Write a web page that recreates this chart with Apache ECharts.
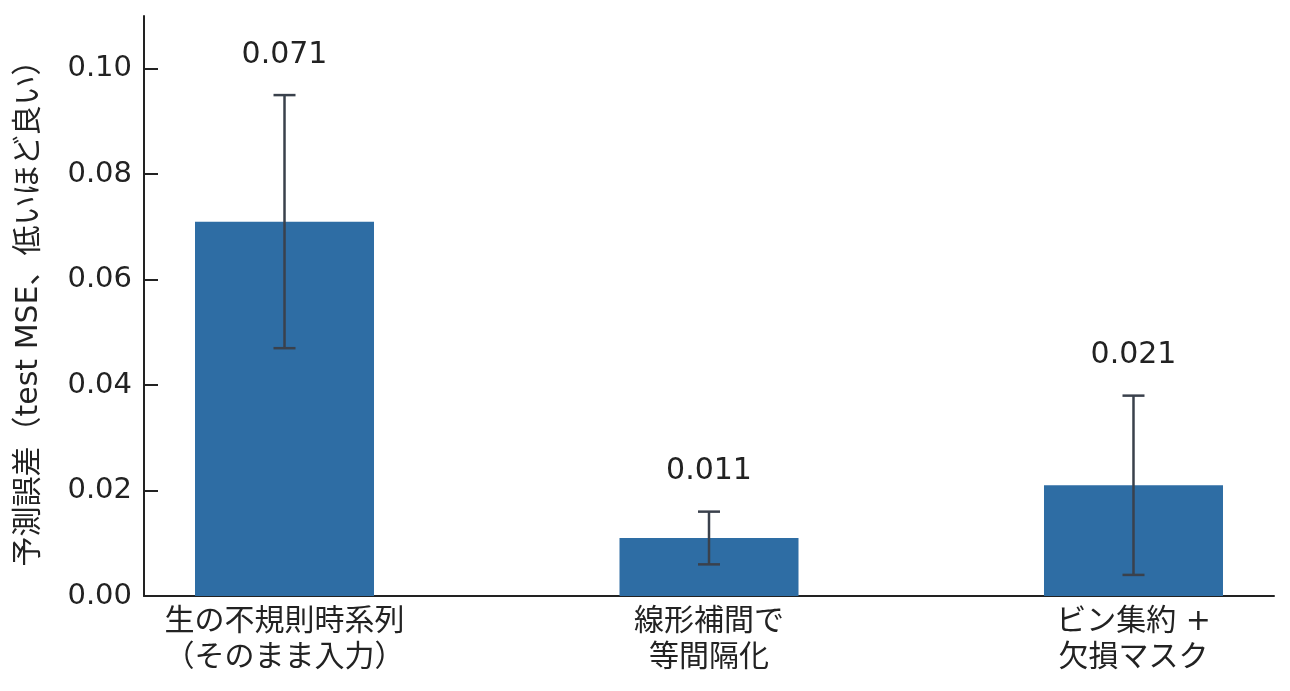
<!DOCTYPE html>
<html><head><meta charset="utf-8">
<script src="https://cdn.jsdelivr.net/npm/echarts@6/dist/echarts.min.js"></script>
<style>html,body{margin:0;padding:0;background:#fff}#c{width:1290px;height:691px}</style>
</head><body><div id="c"></div>
<script>
const categories = ['生の不規則時系列\n（そのまま入力）', '線形補間で\n等間隔化', 'ビン集約 +\n欠損マスク'];
const means = [0.071, 0.011, 0.021];
const errors = [0.024, 0.005, 0.017];
const valueLabels = ['0.071', '0.011', '0.021'];
const yTicks = [0, 0.02, 0.04, 0.06, 0.08, 0.10];

const FONT = '"DejaVu Sans", "Noto Sans CJK JP", sans-serif';
const chart = echarts.init(document.getElementById('c'));
const barData = means.map((v, i) => [i, v]);
const errData = means.map((v, i) => [i, v - errors[i], v + errors[i], i]);

chart.setOption({
  animation: false,
  grid: { left: 144, right: 16, top: 16, bottom: 95, containLabel: false },
  xAxis: {
    type: 'value', min: -0.331, max: 2.331,
    axisLine: { show: true, onZero: false, lineStyle: { color: '#222', width: 2 } },
    axisTick: { show: false },
    splitLine: { show: false },
    axisLabel: {
      customValues: [0, 1, 2],
      formatter: v => categories[Math.round(v)],
      fontFamily: FONT, fontSize: 30, color: '#222', lineHeight: 36, margin: 8
    }
  },
  yAxis: {
    type: 'value', min: 0, max: 0.11,
    name: '予測誤差（test MSE、低いほど良い）',
    nameLocation: 'middle', nameGap: 100, nameRotate: 90,
    nameTextStyle: { fontFamily: FONT, fontSize: 30, color: '#222' },
    axisLine: { show: true, onZero: false, lineStyle: { color: '#222', width: 2 } },
    axisTick: { show: true, inside: true, customValues: yTicks, length: 14, lineStyle: { color: '#222', width: 2 } },
    axisLabel: { customValues: yTicks, formatter: v => v.toFixed(2), fontFamily: FONT, fontSize: 29, color: '#222', margin: 12 },
    splitLine: { show: false }
  },
  series: [
    {
      type: 'bar', data: barData, barWidth: 179,
      itemStyle: { color: '#2e6da4' }
    },
    {
      type: 'custom', data: errData, z: 10,
      renderItem: (params, api) => {
        const x = api.value(0);
        const lo = api.coord([x, api.value(1)]);
        const hi = api.coord([x, api.value(2)]);
        const cap = 11;
        const st = { stroke: '#3a414c', lineWidth: 2.5 };
        const idx = api.value(3);
        return {
          type: 'group',
          children: [
            { type: 'line', shape: { x1: lo[0], y1: lo[1], x2: hi[0], y2: hi[1] }, style: st },
            { type: 'line', shape: { x1: hi[0] - cap, y1: hi[1], x2: hi[0] + cap, y2: hi[1] }, style: st },
            { type: 'line', shape: { x1: lo[0] - cap, y1: lo[1], x2: lo[0] + cap, y2: lo[1] }, style: st },
            { type: 'text', x: hi[0], y: hi[1] - 40,
              style: { text: valueLabels[idx], fontFamily: FONT, fontSize: 30, fill: '#222', align: 'center', verticalAlign: 'middle' } }
          ]
        };
      }
    }
  ]
});
</script></body></html>
